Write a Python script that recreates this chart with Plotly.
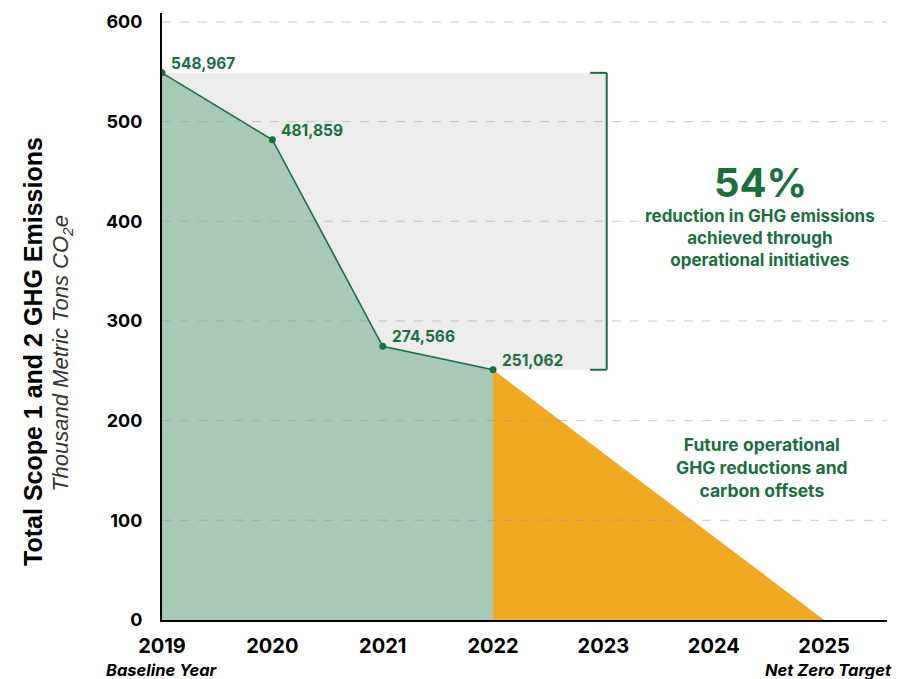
import plotly.graph_objects as go

# actual emissions (thousand metric tons CO2e)
years = [2019, 2020, 2021, 2022]
emissions = [548.967, 481.859, 274.566, 251.062]
labels = ["548,967", "481,859", "274,566", "251,062"]

# path to net zero
target_years = [2022, 2025]
target_values = [251.062, 0]

tick_years = [2019, 2020, 2021, 2022, 2023, 2024, 2025]
y_ticks = [0, 100, 200, 300, 400, 500, 600]

GREEN = "#1b6e3d"
GREEN_FILL = "#a8c9b8"
ORANGE = "#f2a922"
GRAY_BOX = "#ececec"

fig = go.Figure()

fig.add_trace(
    go.Scatter(
        x=target_years,
        y=target_values,
        mode="lines",
        line=dict(width=0, color=ORANGE),
        fill="tozeroy",
        fillcolor=ORANGE,
        hoverinfo="skip",
    )
)

fig.add_trace(
    go.Scatter(
        x=years,
        y=emissions,
        mode="lines+markers",
        line=dict(color=GREEN, width=1.6),
        marker=dict(color=GREEN, size=7),
        fill="tozeroy",
        fillcolor=GREEN_FILL,
    )
)

# grey band showing the reduction achieved so far
bracket_x = 2023.03
fig.add_shape(
    type="rect", x0=years[0], x1=bracket_x, y0=emissions[-1], y1=emissions[0],
    fillcolor=GRAY_BOX, line=dict(width=0), layer="below",
)
for y0, y1, x0, x1 in [
    (emissions[-1], emissions[0], bracket_x, bracket_x),
    (emissions[0], emissions[0], bracket_x - 0.15, bracket_x),
    (emissions[-1], emissions[-1], bracket_x - 0.15, bracket_x),
]:
    fig.add_shape(type="line", x0=x0, x1=x1, y0=y0, y1=y1,
                  line=dict(color=GREEN, width=2), layer="above")

# dashed grid drawn on top of the fills
for v in y_ticks[1:]:
    fig.add_shape(type="line", xref="paper", x0=0, x1=1, y0=v, y1=v,
                  line=dict(color="rgba(150,150,150,0.5)", width=1, dash="dash"),
                  layer="above")

annotations = []
for x, y, t in zip(years, emissions, labels):
    annotations.append(dict(
        x=x, y=y, text=f"<b>{t}</b>", showarrow=False, xanchor="left", yanchor="bottom",
        xshift=7, yshift=-2, font=dict(size=15.5, color=GREEN, family="Inter"),
    ))

annotations += [
    dict(x=2024.42, y=439, text="<b>54%</b>", showarrow=False, yanchor="middle",
         font=dict(size=40, color=GREEN, family="Inter")),
    dict(x=2024.42, y=383,
         text="<b>reduction in GHG emissions<br>achieved through<br>operational initiatives</b>",
         showarrow=False, yanchor="middle", bgcolor="white", borderpad=0,
         font=dict(size=17, color=GREEN, family="Inter")),
    dict(x=2024.44, y=153,
         text="<b>Future operational<br>GHG reductions and<br>carbon offsets</b>",
         showarrow=False, yanchor="middle",
         font=dict(size=17.5, color=GREEN, family="Inter")),
    dict(x=2019, y=-0.083, yref="paper", text="<b><i>Baseline Year</i></b>", showarrow=False,
         yanchor="middle", font=dict(size=16.5, color="black", family="Inter")),
    dict(x=2025.04, y=-0.083, yref="paper", text="<b><i>Net Zero Target</i></b>",
         showarrow=False, yanchor="middle",
         font=dict(size=16.5, color="black", family="Inter")),
    dict(x=-0.179, y=0.442, xref="paper", yref="paper", xanchor="center", yanchor="middle",
         text="<b>Total Scope 1 and 2 GHG Emissions</b>", showarrow=False,
         textangle=-90, font=dict(size=25, color="black", family="Liberation Sans")),
    dict(x=-0.138, y=0.44, xref="paper", yref="paper", xanchor="center", yanchor="middle",
         text="<i>Thousand Metric Tons CO<sub>2</sub>e</i>", showarrow=False,
         textangle=-90, font=dict(size=22, color="#333333", family="Liberation Sans")),
]

# the page body adds an 8px margin, so the figure is 8px smaller on each axis
fig.update_layout(
    width=907,
    height=671,
    showlegend=False,
    plot_bgcolor="white",
    paper_bgcolor="white",
    margin=dict(l=154, r=28, t=3, b=59),
    font=dict(family="Inter", size=19, color="black"),
    annotations=annotations,
    xaxis=dict(
        range=[2019, 2025.57],
        tickvals=tick_years,
        ticktext=[f"<b>{y}</b>" for y in tick_years],
        showgrid=False,
        zeroline=False,
        showline=True,
        linecolor="black",
        linewidth=2,
        ticks="",
        ticklabelstandoff=7,
        tickfont=dict(size=20),
    ),
    yaxis=dict(
        range=[0, 609],
        tickvals=y_ticks,
        ticktext=[f"<b>{v}</b>" for v in y_ticks],
        showgrid=False,
        zeroline=False,
        showline=True,
        linecolor="black",
        linewidth=2,
        ticks="",
        ticklabelstandoff=14,
        tickfont=dict(size=18),
    ),
)

fig.write_html("out.html")
